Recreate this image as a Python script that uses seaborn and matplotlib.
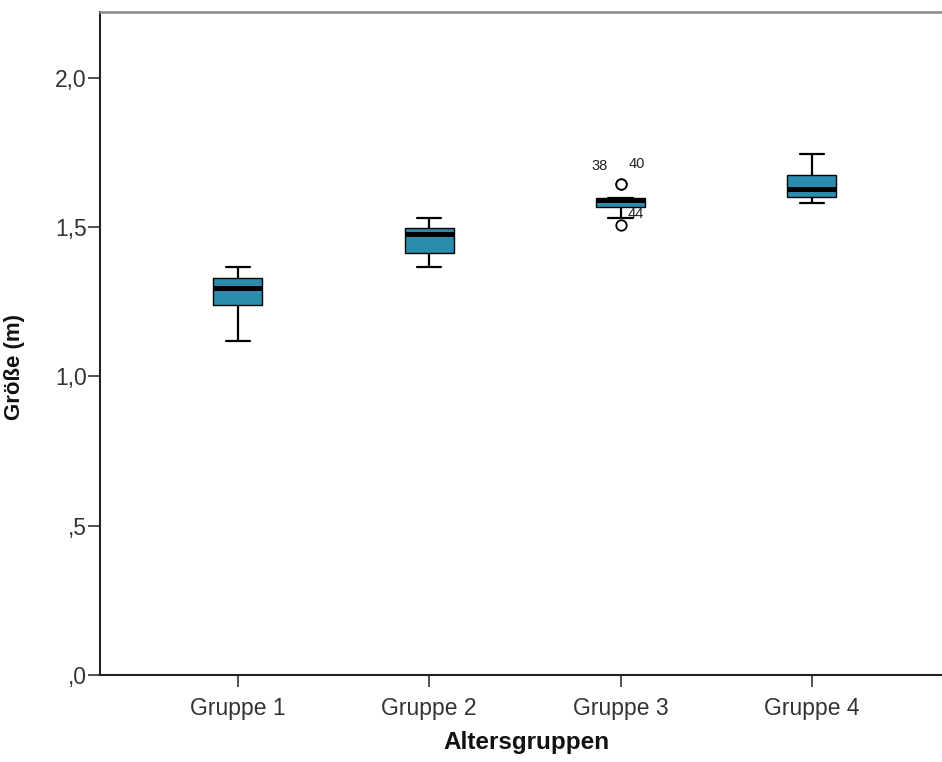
import matplotlib
matplotlib.use("Agg")
import matplotlib.pyplot as plt
import seaborn as sns
import pandas as pd

# Körpergröße (m) je Altersgruppe
gruppen = ["Gruppe 1", "Gruppe 2", "Gruppe 3", "Gruppe 4"]
groesse_g1 = [1.120, 1.240, 1.297, 1.329, 1.368]
groesse_g2 = [1.368, 1.413, 1.478, 1.498, 1.531]
groesse_g3 = [1.508, 1.531, 1.568, 1.568, 1.590, 1.598, 1.598, 1.645, 1.645]
groesse_g4 = [1.580, 1.602, 1.627, 1.675, 1.745]

# Fallnummern der Ausreißer (Gruppe, Wert, Fallnummer)
ausreisser_gruppe = ["Gruppe 3", "Gruppe 3", "Gruppe 3"]
ausreisser_wert = [1.645, 1.645, 1.508]
ausreisser_fall = ["38", "40", "44"]

y_ticks = [0.0, 0.5, 1.0, 1.5, 2.0]
y_ticklabels = [",0", ",5", "1,0", "1,5", "2,0"]

df = pd.DataFrame({
    "Altersgruppen": sum([[g] * len(v) for g, v in zip(
        gruppen, [groesse_g1, groesse_g2, groesse_g3, groesse_g4])], []),
    "Größe (m)": groesse_g1 + groesse_g2 + groesse_g3 + groesse_g4,
})

sns.set_theme(style="white")
plt.rcParams["font.family"] = ["Liberation Sans", "DejaVu Sans"]

fig = plt.figure(figsize=(9.42, 7.62), dpi=100)
ax = fig.add_axes([100 / 942, 87 / 762, 842 / 942, 663 / 762])

sns.boxplot(
    data=df, x="Altersgruppen", y="Größe (m)", order=gruppen, ax=ax,
    width=0.255, color="#2b8cae", saturation=1, linecolor="black",
    linewidth=1.0,
    medianprops=dict(color="black", linewidth=3.6),
    whiskerprops=dict(color="black", linewidth=1.6),
    capprops=dict(color="black", linewidth=1.6),
    flierprops=dict(marker="o", markerfacecolor="white",
                    markeredgecolor="black", markeredgewidth=1.3,
                    markersize=7.5),
)

# Fallnummern neben den Ausreißern
offsets = {"38": (-15, 13), "40": (12, 14), "44": (11, 8)}
for g, w, f in zip(ausreisser_gruppe, ausreisser_wert, ausreisser_fall):
    ax.annotate(f, xy=(gruppen.index(g), w), xytext=offsets[f],
                textcoords="offset points", ha="center", va="center",
                fontsize=10.5, color="#222222")

ax.set_xlim(-0.72, 3.68)
ax.set_ylim(0, 2.221)
ax.set_yticks(y_ticks)
ax.set_yticklabels(y_ticklabels)

ax.tick_params(axis="both", which="both", direction="out", length=8.5,
               width=1.1, color="#222222", labelsize=16.5, labelcolor="#333333")
ax.tick_params(axis="y", pad=1)
ax.tick_params(axis="x", pad=7)
ax.tick_params(left=True, bottom=True)

for side in ["left", "bottom"]:
    ax.spines[side].set_color("#222222")
    ax.spines[side].set_linewidth(1.5)
ax.spines["top"].set_color("#888888")
ax.spines["top"].set_linewidth(1.8)
ax.spines["right"].set_visible(False)

ax.set_xlabel("Altersgruppen", fontsize=17.5, fontweight="bold", color="#111111")
ax.set_ylabel("Größe (m)", fontsize=16, fontweight="bold", color="#111111")
ax.xaxis.set_label_coords(0.506, -0.085)
ax.yaxis.set_label_coords(-0.089, 0.465)

fig.savefig("out.png", dpi=100)
